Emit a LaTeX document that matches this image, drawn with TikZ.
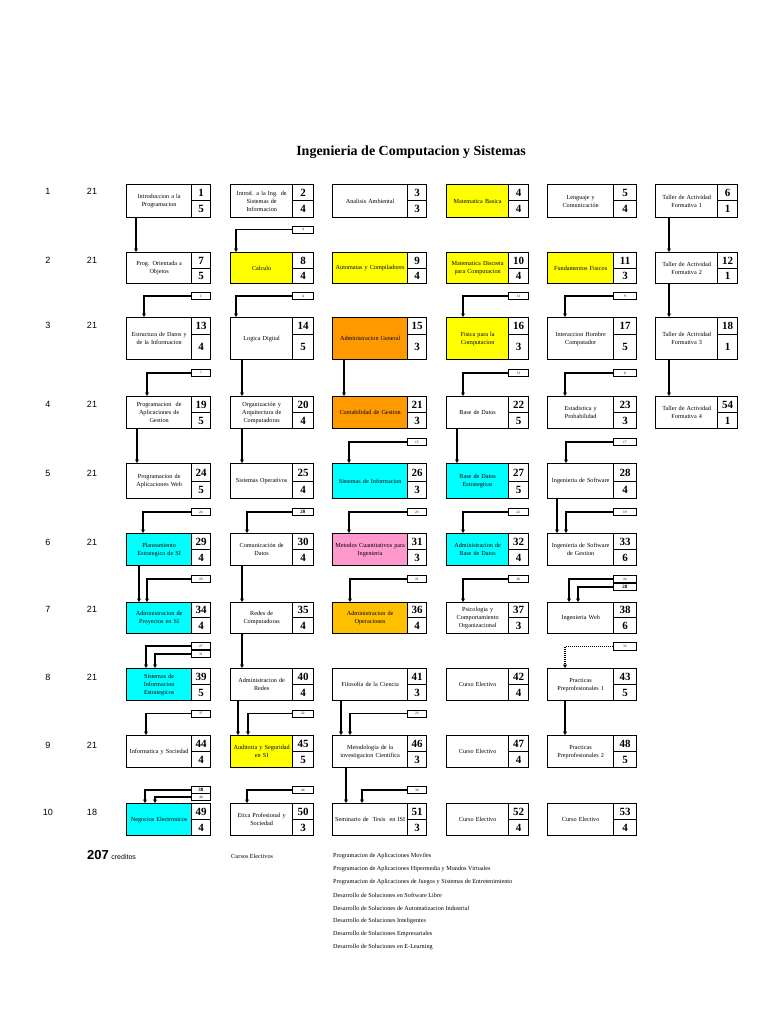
\documentclass[tikz,border=0pt]{standalone}
\usepackage{fontspec}
\setmainfont{Liberation Serif}
\newfontfamily\arialf{Liberation Sans}
\usetikzlibrary{arrows.meta}
\definecolor{cyel}{HTML}{FFFF00}
\definecolor{corg}{HTML}{FF9900}
\definecolor{camb}{HTML}{FFC000}
\definecolor{ccyn}{HTML}{00FFFF}
\definecolor{cpnk}{HTML}{FF99CC}
\def\colL#1{\ifcase#1 \or126\or230\or332\or446\or547\or655\fi}
\def\colM#1{\ifcase#1 \or191\or292\or407\or508\or613\or717\fi}
\def\colR#1{\ifcase#1 \or210\or313\or426\or528\or636\or737\fi}
\def\rowT#1{\ifcase#1 \or184\or252\or317\or396\or463\or533\or602\or668\or735\or803\fi}
\def\rowD#1{\ifcase#1 \or200\or268\or334\or412\or481\or549\or617\or684\or751\or819\fi}
\def\rowB#1{\ifcase#1 \or217\or283\or359\or428\or498\or565\or633\or700\or767\or835\fi}
\tikzset{
 crsbox/.style={draw, line width=1.3pt, inner sep=0pt, align=center, font=\fontsize{6.2}{8}\selectfont, anchor=north west},
 numcell/.style={draw, line width=1.3pt, inner sep=0pt, fill=white, font=\fontsize{11}{11}\selectfont\bfseries, anchor=north west},
 tagbox/.style={draw, line width=0.9pt, inner sep=0pt, minimum height=7pt, fill=white, font=\fontsize{3.5}{3.5}\selectfont, anchor=west},
 tagbold/.style={font=\fontsize{5}{5}\selectfont\bfseries},
 conn/.style={line width=1.8pt, -{Triangle[length=3.5pt,width=3.8pt]}},
 dotconn/.style={line width=1.4pt, dash pattern=on 1pt off 1pt, -{Triangle[length=3.5pt,width=3.8pt]}},
 semlab/.style={font=\arialf\fontsize{9}{9}\selectfont},
 elec/.style={anchor=west, inner sep=0pt, font=\fontsize{6.2}{6.2}\selectfont},
}
\newcommand\crs[7]{%
 \edef\xL{\colL{#2}}\edef\xM{\colM{#2}}\edef\xR{\colR{#2}}%
 \edef\yT{\rowT{#3}}\edef\yD{\rowD{#3}}\edef\yB{\rowB{#3}}%
 \pgfmathsetmacro\wA{\xM-\xL}\pgfmathsetmacro\wT{\xM-\xL-1}%
 \pgfmathsetmacro\wB{\xR-\xM}%
 \pgfmathsetmacro\hA{\yB-\yT}\pgfmathsetmacro\hB{\yD-\yT}\pgfmathsetmacro\hC{\yB-\yD}%
 \node[crsbox, fill=#4, minimum width=\wA pt, minimum height=\hA pt, text width=\wT pt] (t#1) at (\xL,\yT) {#5};
 \node[numcell, minimum width=\wB pt, minimum height=\hB pt] (n#1) at (\xM,\yT) {#6};
 \node[numcell, minimum width=\wB pt, minimum height=\hC pt] (k#1) at (\xM,\yD) {#7};
}
\newcommand\ptag[5][]{%
 \edef\xM{\colM{#3}}\edef\xR{\colR{#3}}%
 \pgfmathsetmacro\wB{\xR-\xM}%
 \node[tagbox, minimum width=\wB pt, #1] (#2) at (\xM,#4) {#5};
}
\begin{document}
\begin{tikzpicture}[x=1pt, y=-1pt]
\useasboundingbox (0,0) rectangle (768,1024);
\node[font=\fontsize{14}{14}\selectfont\bfseries] (title) at (411,152) {Ingenieria de Computacion y Sistemas};
\foreach \r/\y/\c in {1/191/21, 2/260/21, 3/325/21, 4/404/21, 5/473/21, 6/542/21, 7/609/21, 8/677/21, 9/745/21, 10/812/18} {
 \node[semlab] (s\r) at (48,\y) {\r};
 \node[semlab] (cr\r) at (92,\y) {\c};
}
% courses
\crs{1}{1}{1}{white}{Introduccion a la\\Programacion}{1}{5}
\crs{2}{2}{1}{white}{Introd. a la Ing. de\\Sistemas de\\Informacion}{2}{4}
\crs{3}{3}{1}{white}{Analisis Ambiental}{3}{3}
\crs{4}{4}{1}{cyel}{Matematica Basica}{4}{4}
\crs{5}{5}{1}{white}{Lenguaje y\\Comunicación}{5}{4}
\crs{6}{6}{1}{white}{Taller de Actividad\\Formativa 1}{6}{1}
\crs{7}{1}{2}{white}{Prog. Orientada a\\Objetos}{7}{5}
\crs{8}{2}{2}{cyel}{Calculo}{8}{4}
\crs{9}{3}{2}{cyel}{Automatas y Compiladores}{9}{4}
\crs{10}{4}{2}{cyel}{Matematica Discreta\\para Computacion}{10}{4}
\crs{11}{5}{2}{cyel}{Fundamentos Fisicos}{11}{3}
\crs{12}{6}{2}{white}{Taller de Actividad\\Formativa 2}{12}{1}
\crs{13}{1}{3}{white}{Estructura de Datos y\\de la Informacion}{13}{4}
\crs{14}{2}{3}{white}{Logica Digital}{14}{5}
\crs{15}{3}{3}{corg}{Administracion General}{15}{3}
\crs{16}{4}{3}{cyel}{Fisica para la\\Computacion}{16}{3}
\crs{17}{5}{3}{white}{Interaccion Hombre\\Computador}{17}{5}
\crs{18}{6}{3}{white}{Taller de Actividad\\Formativa 3}{18}{1}
\crs{19}{1}{4}{white}{Programacion\ \ de\\Aplicaciones de\\Gestion}{19}{5}
\crs{20}{2}{4}{white}{Organización y\\Arquitectura de\\Computadoras}{20}{4}
\crs{21}{3}{4}{corg}{Contabilidad de Gestion}{21}{3}
\crs{22}{4}{4}{white}{Base de Datos}{22}{5}
\crs{23}{5}{4}{white}{Estadistica y\\Probabilidad}{23}{3}
\crs{54}{6}{4}{white}{Taller de Actividad\\Formativa 4}{54}{1}
\crs{24}{1}{5}{white}{Programacion de\\Aplicaciones Web}{24}{5}
\crs{25}{2}{5}{white}{Sistemas Operativos}{25}{4}
\crs{26}{3}{5}{ccyn}{Sistemas de Informacion}{26}{3}
\crs{27}{4}{5}{ccyn}{Base de Datos\\Estrategicas}{27}{5}
\crs{28}{5}{5}{white}{Ingenieria de Software}{28}{4}
\crs{29}{1}{6}{ccyn}{Planeamiento\\Estrategico de SI}{29}{4}
\crs{30}{2}{6}{white}{Comunicación de\\Datos}{30}{4}
\crs{31}{3}{6}{cpnk}{Metodos Cuantitativos para\\Ingenieria}{31}{3}
\crs{32}{4}{6}{ccyn}{Administracion de\\Base de Datos}{32}{4}
\crs{33}{5}{6}{white}{Ingenieria de Software\\de Gestion}{33}{6}
\crs{34}{1}{7}{ccyn}{Administracion de\\Proyectos en SI}{34}{4}
\crs{35}{2}{7}{white}{Redes de\\Computadoras}{35}{4}
\crs{36}{3}{7}{camb}{Administracion de\\Operaciones}{36}{4}
\crs{37}{4}{7}{white}{Psicologia y\\Comportamiento\\Organizacional}{37}{3}
\crs{38}{5}{7}{white}{Ingenieria Web}{38}{6}
\crs{39}{1}{8}{ccyn}{Sistemas de\\Informacion\\Estrategicos}{39}{5}
\crs{40}{2}{8}{white}{Administracion de\\Redes}{40}{4}
\crs{41}{3}{8}{white}{Filosofia de la Ciencia}{41}{3}
\crs{42}{4}{8}{white}{Curso Electivo}{42}{4}
\crs{43}{5}{8}{white}{Practicas\\Preprofesionales 1}{43}{5}
\crs{44}{1}{9}{white}{Informatica y Sociedad}{44}{4}
\crs{45}{2}{9}{cyel}{Auditoria y Seguridad\\en SI}{45}{5}
\crs{46}{3}{9}{white}{Metodologia de la\\investigacion Cientifica}{46}{3}
\crs{47}{4}{9}{white}{Curso Electivo}{47}{4}
\crs{48}{5}{9}{white}{Practicas\\Preprofesionales 2}{48}{5}
\crs{49}{1}{10}{ccyn}{Negocios Electronicos}{49}{4}
\crs{50}{2}{10}{white}{Etica Profesional y\\Sociedad}{50}{3}
\crs{51}{3}{10}{white}{Seminario de\ \ Tesis\ \ en ISI}{51}{3}
\crs{52}{4}{10}{white}{Curso Electivo}{52}{4}
\crs{53}{5}{10}{white}{Curso Electivo}{53}{4}
% prerequisite tags
\ptag{g8}{2}{229.5}{4}
\ptag{g13}{1}{296}{1}
\ptag{g14}{2}{296}{4}
\ptag{g16}{4}{296}{11}
\ptag{g17}{5}{296}{9}
\ptag{g19}{1}{373}{7}
\ptag{g22}{4}{373}{13}
\ptag{g23}{5}{373}{8}
\ptag{g26}{3}{442}{15}
\ptag{g28}{5}{442}{17}
\ptag{g29}{1}{512}{24}
\ptag[tagbold]{g30}{2}{512}{20}
\ptag{g31}{3}{512}{23}
\ptag{g32}{4}{512}{22}
\ptag{g33}{5}{512}{19}
\ptag{g34}{1}{579}{29}
\ptag{g36}{3}{579}{21}
\ptag{g37}{4}{579}{26}
\ptag{g38a}{5}{579}{24}
\ptag[tagbold]{g38b}{5}{587}{28}
\ptag{g39a}{1}{646}{27}
\ptag{g39b}{1}{654}{31}
\ptag[minimum height=8.5pt]{g43}{5}{646.5}{33}
\ptag{g44}{1}{713.5}{37}
\ptag{g45}{2}{713.5}{32}
\ptag{g46}{3}{713.5}{23}
\ptag[tagbold]{g49a}{1}{790}{38}
\ptag{g49b}{1}{797}{40}
\ptag{g50}{2}{790}{44}
\ptag{g51}{3}{790}{39}
% connectors row 1 -> 2
\draw[conn] ([xshift=10pt]t1.south west) -- ([xshift=10pt]t7.north west);
\draw[conn] (g8.west) -| ([xshift=6pt]t8.north west);
\draw[conn] ([xshift=14pt]t6.south west) -- ([xshift=14pt]t12.north west);
% row 2 -> 3
\draw[conn] (g13.west) -| ([xshift=18pt]t13.north west);
\draw[conn] (g14.west) -| ([xshift=6pt]t14.north west);
\draw[conn] (g16.west) -| ([xshift=17pt]t16.north west);
\draw[conn] (g17.west) -| ([xshift=18pt]t17.north west);
\draw[conn] ([xshift=14pt]t12.south west) -- ([xshift=14pt]t18.north west);
% row 3 -> 4
\draw[conn] (g19.west) -| ([xshift=21pt]t19.north west);
\draw[conn] ([xshift=12pt]t14.south west) -- ([xshift=12pt]t20.north west);
\draw[conn] ([xshift=12pt]t15.south west) -- ([xshift=12pt]t21.north west);
\draw[conn] (g22.west) -| ([xshift=17pt]t22.north west);
\draw[conn] (g23.west) -| ([xshift=18pt]t23.north west);
\draw[conn] ([xshift=14pt]t18.south west) -- ([xshift=14pt]t54.north west);
% row 4 -> 5
\draw[conn] ([xshift=11pt]t19.south west) -- ([xshift=11pt]t24.north west);
\draw[conn] ([xshift=12pt]t20.south west) -- ([xshift=12pt]t25.north west);
\draw[conn] (g26.west) -| ([xshift=17pt]t26.north west);
\draw[conn] ([xshift=11pt]t22.south west) -- ([xshift=11pt]t27.north west);
\draw[conn] (g28.west) -| ([xshift=19pt]t28.north west);
% row 5 -> 6
\draw[conn] (g29.west) -| ([xshift=17pt]t29.north west);
\draw[conn] (g30.west) -| ([xshift=17pt]t30.north west);
\draw[conn] (g31.west) -| ([xshift=17pt]t31.north west);
\draw[conn] (g32.west) -| ([xshift=17pt]t32.north west);
\draw[conn] ([xshift=10pt]t28.south west) -- ([xshift=10pt]t33.north west);
\draw[conn] (g33.west) -| ([xshift=19pt]t33.north west);
% row 6 -> 7
\draw[conn] ([xshift=13pt]t29.south west) -- ([xshift=13pt]t34.north west);
\draw[conn] (g34.west) -| ([xshift=21pt]t34.north west);
\draw[conn] ([xshift=12pt]t30.south west) -- ([xshift=12pt]t35.north west);
\draw[conn] (g36.west) -| ([xshift=18pt]t36.north west);
\draw[conn] (g37.west) -| ([xshift=17pt]t37.north west);
\draw[conn] (g38a.west) -| ([xshift=22pt]t38.north west);
\draw[conn] (g38b.west) -| ([xshift=31pt]t38.north west);
% row 7 -> 8
\draw[conn] (g39a.west) -| ([xshift=20pt]t39.north west);
\draw[conn] (g39b.west) -| ([xshift=29pt]t39.north west);
\draw[conn] ([xshift=12pt]t35.south west) -- ([xshift=12pt]t40.north west);
\draw[dotconn] (g43.west) -| ([xshift=18pt]t43.north west);
% row 8 -> 9
\draw[conn] (g44.west) -| ([xshift=20pt]t44.north west);
\draw[conn] ([xshift=8pt]t40.south west) -- ([xshift=8pt]t45.north west);
\draw[conn] (g45.west) -| ([xshift=18pt]t45.north west);
\draw[conn] ([xshift=9pt]t41.south west) -- ([xshift=9pt]t46.north west);
\draw[conn] (g46.west) -| ([xshift=18pt]t46.north west);
\draw[conn] ([xshift=18pt]t43.south west) -- ([xshift=18pt]t48.north west);
% row 9 -> 10
\draw[conn] (g49a.west) -| ([xshift=19pt]t49.north west);
\draw[conn] (g49b.west) -| ([xshift=29pt]t49.north west);
\draw[conn] (g50.west) -| ([xshift=17pt]t50.north west);
\draw[conn] ([xshift=14pt]t46.south west) -- ([xshift=14pt]t51.north west);
\draw[conn] (g51.west) -| ([xshift=30pt]t51.north west);
% totals and electives
\node[anchor=base west, inner sep=0pt] (tot) at (87,859) {{\arialf\bfseries\fontsize{13}{13}\selectfont 207} {\arialf\fontsize{7}{7}\selectfont creditos}};
\node[elec] (ce) at (231,856) {Cursos Electivos};
\node[elec] (e1) at (333,856) {Programacion de Aplicaciones Moviles};
\node[elec] (e2) at (333,869) {Programacion de Aplicaciones Hipermedia y Mundos Virtuales};
\node[elec] (e3) at (333,882) {Programacion de Aplicaciones de Juegos y Sistemas de Entretenimiento};
\node[elec] (e4) at (333,895) {Desarrollo de Soluciones en Software Libre};
\node[elec] (e5) at (333,908) {Desarrollo de Soluciones de Automatizacion Industrial};
\node[elec] (e6) at (333,921) {Desarrollo de Soluciones Inteligentes};
\node[elec] (e7) at (333,934) {Desarrollo de Soluciones Empresariales};
\node[elec] (e8) at (333,947) {Desarrollo de Soluciones en E-Learning};
\end{tikzpicture}
\end{document}
